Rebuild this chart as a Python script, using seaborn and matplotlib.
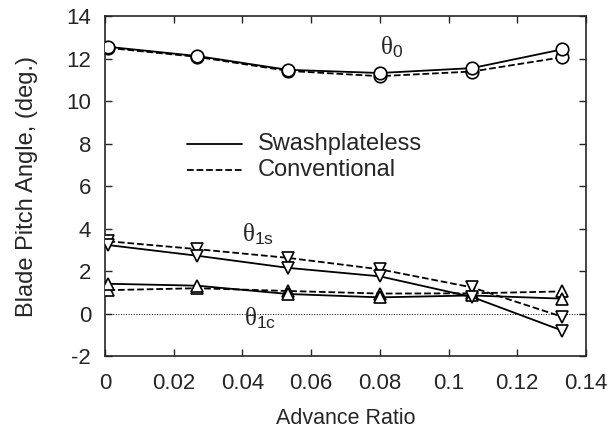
import numpy as np
import pandas as pd
import matplotlib
matplotlib.use("Agg")
import matplotlib.pyplot as plt
import seaborn as sns

# datos
mu = [0.001, 0.0268, 0.0532, 0.080, 0.1068, 0.1330]

theta0_swash = [12.55, 12.12, 11.47, 11.32, 11.55, 12.43]
theta0_conv = [12.50, 12.08, 11.42, 11.17, 11.39, 12.06]

theta1s_swash = [3.22, 2.72, 2.15, 1.75, 0.78, -0.80]
theta1s_conv = [3.40, 3.03, 2.62, 2.08, 1.23, -0.15]

theta1c_swash = [1.40, 1.31, 0.92, 0.76, 0.85, 0.70]
theta1c_conv = [1.10, 1.19, 1.06, 0.94, 0.95, 1.04]

series = [
    ('theta0', 'Swashplateless', theta0_swash),
    ('theta0', 'Conventional', theta0_conv),
    ('theta1s', 'Swashplateless', theta1s_swash),
    ('theta1s', 'Conventional', theta1s_conv),
    ('theta1c', 'Swashplateless', theta1c_swash),
    ('theta1c', 'Conventional', theta1c_conv),
]
filas = []
for ang, conf, vals in series:
    for m, v in zip(mu, vals):
        filas.append({'mu': m, 'angulo': ang, 'config': conf, 'valor': v})
df = pd.DataFrame(filas)

sns.set_style('ticks')
plt.rcParams['font.family'] = ['Liberation Sans', 'DejaVu Sans']
plt.rcParams['axes.unicode_minus'] = False
plt.rcParams['mathtext.fontset'] = 'custom'
plt.rcParams['mathtext.rm'] = 'Liberation Serif'
plt.rcParams['mathtext.it'] = 'Liberation Serif'
plt.rcParams['mathtext.sf'] = 'Liberation Sans'

fig = plt.figure(figsize=(6.13, 4.34), dpi=100)
ax = fig.add_axes([0.1713, 0.1797, 0.7847, 0.7833])

ax.axhline(0, color='black', linestyle=':', linewidth=0.7, zorder=1)

marcadores = {'theta0': 'o', 'theta1s': 'v', 'theta1c': '^'}
estilos = {'Swashplateless': '-', 'Conventional': '--'}

for (ang, conf), sub in df.groupby(['angulo', 'config']):
    sns.lineplot(data=sub, x='mu', y='valor', ax=ax, color='black',
                 linestyle=estilos[conf], linewidth=1.3,
                 marker=marcadores[ang], markersize=9,
                 markerfacecolor='white', markeredgecolor='black',
                 markeredgewidth=1.2, legend=False, zorder=3)

# leyenda a mano con lineas
ax.plot([0.0239, 0.0399], [7.98, 7.98], color='black', linewidth=1.3)
ax.plot([0.0239, 0.0399], [6.75, 6.75], color='black', linewidth=1.3, linestyle='--')
ax.text(0.0445, 7.98, 'Swashplateless', fontsize=17, va='center')
ax.text(0.0445, 6.75, 'Conventional', fontsize=17, va='center')

ax.text(0.0835, 12.55, r'$\mathrm{\theta}_\mathsf{0}$', fontsize=18, ha='center', va='center')
ax.text(0.0445, 3.75, r'$\mathrm{\theta}_\mathsf{1s}$', fontsize=18, ha='center', va='center')
ax.text(0.0450, -0.2, r'$\mathrm{\theta}_\mathsf{1c}$', fontsize=18, ha='center', va='center')

ax.set_xlim(0, 0.14)
ax.set_ylim(-2, 14)
ax.set_xticks(np.arange(0, 0.141, 0.02))
ax.set_xticklabels(['0', '0.02', '0.04', '0.06', '0.08', '0.1', '0.12', '0.14'])
ax.set_yticks(np.arange(-2, 15, 2))
ax.tick_params(direction='in', top=True, right=True, length=5, width=1,
               labelsize=16)
ax.tick_params(axis='x', pad=12)
ax.tick_params(axis='y', pad=10)
for s in ax.spines.values():
    s.set_linewidth(1.2)

ax.set_xlabel('Advance Ratio', fontsize=15.5, labelpad=10)
ax.set_ylabel('Blade Pitch Angle, (deg.)', fontsize=17, labelpad=20)

plt.savefig('out.png', dpi=100)
